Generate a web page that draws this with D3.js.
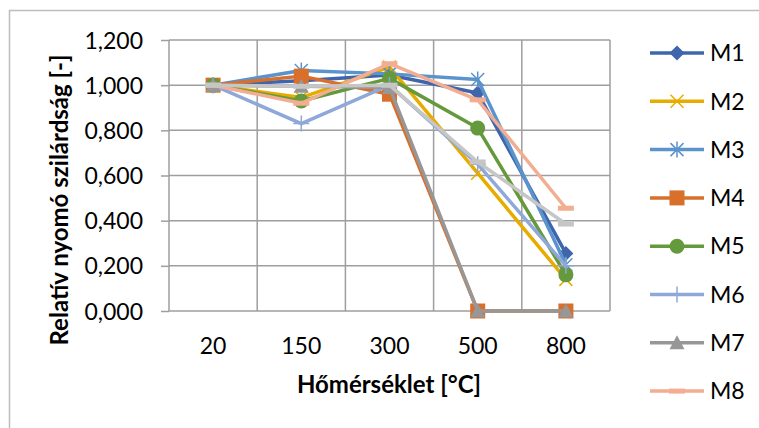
<!DOCTYPE html>
<html>
<head>
<meta charset="utf-8">
<script src="https://cdn.jsdelivr.net/npm/d3@7"></script>
<style>
  body { margin: 0; background: #fff; }
  text { font-family: Lato, "Open Sans", sans-serif; fill: #000; }
</style>
</head>
<body>
<div class="chart"></div>
<script>
'use strict';

var categories = ['20', '150', '300', '500', '800'];
var seriesNames = ['M1', 'M2', 'M3', 'M4', 'M5', 'M6', 'M7', 'M8'];
var m1 = [1.000, 1.020, 1.045, 0.965, 0.255];
var m2 = [1.000, 0.945, 1.080, 0.610, 0.140];
var m3 = [1.000, 1.065, 1.050, 1.025, 0.205];
var m4 = [1.000, 1.040, 0.960, 0.000, 0.000];
var m5 = [1.000, 0.930, 1.030, 0.810, 0.160];
var m6 = [1.000, 0.830, 1.000, 0.650, 0.200];
var m7 = [1.000, 0.995, 0.990, 0.000, 0.000];
var m8 = [1.000, 0.920, 1.095, 0.935, 0.455];
// ninth series, its legend entry is cut off in the original
var m9 = [1.000, 0.995, 1.000, 0.660, 0.385];
var yTicks = [0, 0.2, 0.4, 0.6, 0.8, 1.0, 1.2];

var colors = ['#3f65ad', '#e6ac00', '#5b93cc', '#d86f2b', '#64993c', '#8fa8da', '#979797', '#f2ad92', '#c6c6c6'];
var markers = ['diamond', 'cross', 'star', 'square', 'circle', 'plus', 'triangle', 'dash', 'dash'];
var values = [m1, m2, m3, m4, m5, m6, m7, m8, m9];

var width = 759;
var height = 428;
var plot = { left: 169, right: 610, top: 40, bottom: 311 };

var svg = d3.select('.chart').append('svg').attr('width', width).attr('height', height);

// outer chart border (only top and left fall inside the picture)
svg.append('rect').attr('x', 9.5).attr('y', 10.5).attr('width', 800).attr('height', 500)
  .attr('fill', 'none').attr('stroke', '#bdbdbd').attr('stroke-width', 1.5);

var x = d3.scaleBand().domain(categories).range([plot.left, plot.right]);
var y = d3.scaleLinear().domain([0, 1.2]).range([plot.bottom, plot.top]);
var fmt = function (v) { return d3.format('.3f')(v).replace('.', ','); };

var grid = svg.append('g').attr('class', 'grid').attr('stroke', '#9e9e9e').attr('stroke-width', 1.5);
grid.selectAll('line.h').data(yTicks).enter().append('line').attr('class', 'h')
  .attr('x1', plot.left).attr('x2', plot.right).attr('y1', function (d) { return y(d); }).attr('y2', function (d) { return y(d); });
var bounds = categories.map(function (c) { return x(c); }).concat([plot.right]);
grid.selectAll('line.v').data(bounds).enter().append('line').attr('class', 'v')
  .attr('x1', function (d) { return d; }).attr('x2', function (d) { return d; })
  .attr('y1', plot.top).attr('y2', plot.bottom);

// y axis
var yAxis = d3.axisLeft(y).tickValues(yTicks).tickFormat(fmt).tickSize(8).tickPadding(18);
var gy = svg.append('g').attr('transform', 'translate(' + plot.left + ',0)').call(yAxis);
gy.select('.domain').remove();
gy.selectAll('.tick line').attr('stroke', '#9e9e9e').attr('stroke-width', 1.5);
gy.selectAll('.tick text').style('font-size', '23px').attr('dy', '0.35em');

// x axis labels
var xAxis = d3.axisBottom(x).tickSize(0).tickPadding(27);
var gx = svg.append('g').attr('transform', 'translate(0,' + plot.bottom + ')').call(xAxis);
gx.select('.domain').remove();
gx.selectAll('.tick text').style('font-size', '23px');

svg.append('text').attr('x', 389).attr('y', 393).attr('text-anchor', 'middle')
  .style('font-size', '24px').style('font-weight', 'bold').text('Hőmérséklet [°C]');
svg.append('text').attr('transform', 'translate(68,200) rotate(-90)').attr('text-anchor', 'middle')
  .style('font-size', '24px').style('font-weight', 'bold').text('Relatív nyomó szilárdság [-]');

var drawMarker = function drawMarker(g, type, color) {
  var s = 7.5;
  if (type === 'diamond') {
    g.append('path').attr('d', 'M0,' + (-s) + 'L' + s + ',0L0,' + s + 'L' + (-s) + ',0Z').attr('fill', color);
  } else if (type === 'square') {
    g.append('rect').attr('x', -s).attr('y', -s).attr('width', 2 * s).attr('height', 2 * s).attr('fill', color);
  } else if (type === 'circle') {
    g.append('circle').attr('r', s).attr('fill', color);
  } else if (type === 'triangle') {
    g.append('path').attr('d', 'M0,' + (-s) + 'L' + s + ',' + (s - 1) + 'L' + (-s) + ',' + (s - 1) + 'Z').attr('fill', color);
  } else if (type === 'dash') {
    g.append('rect').attr('x', -8).attr('y', -2.5).attr('width', 16).attr('height', 5).attr('fill', color);
  } else {
    var p = '';
    var k = 6.5;
    if (type === 'cross' || type === 'star') p += 'M' + (-k) + ',' + (-k) + 'L' + k + ',' + k + 'M' + (-k) + ',' + k + 'L' + k + ',' + (-k);
    if (type === 'star' || type === 'plus') p += 'M0,' + (-8) + 'L0,8';
    if (type === 'plus') p += 'M-8,0L8,0';
    g.append('path').attr('d', p).attr('stroke', color).attr('stroke-width', 1.5).attr('fill', 'none');
  }
};

var line = d3.line().x(function (d, i) { return x(categories[i]) + x.bandwidth() / 2; }).y(function (d) { return y(d); });

values.forEach(function (vals, si) {
  var g = svg.append('g').attr('class', 'series');
  g.append('path').datum(vals).attr('d', line).attr('fill', 'none')
    .attr('stroke', colors[si]).attr('stroke-width', 3.5).attr('stroke-linejoin', 'round');
  vals.forEach(function (v, i) {
    var mg = g.append('g').attr('transform', 'translate(' + (x(categories[i]) + x.bandwidth() / 2) + ',' + y(v) + ')');
    drawMarker(mg, markers[si], colors[si]);
  });
});

// legend
var legend = svg.append('g').attr('class', 'legend');
seriesNames.forEach(function (name, i) {
  var ly = 53 + i * 48.3;
  var lg = legend.append('g').attr('transform', 'translate(0,' + ly + ')');
  lg.append('line').attr('x1', 650).attr('x2', 704).attr('stroke', colors[i]).attr('stroke-width', 3.5);
  var mg = lg.append('g').attr('transform', 'translate(677,0)');
  drawMarker(mg, markers[i], colors[i]);
  lg.append('text').attr('x', 710).attr('dy', '0.36em').style('font-size', '23px').text(name);
});
</script>
</body>
</html>
